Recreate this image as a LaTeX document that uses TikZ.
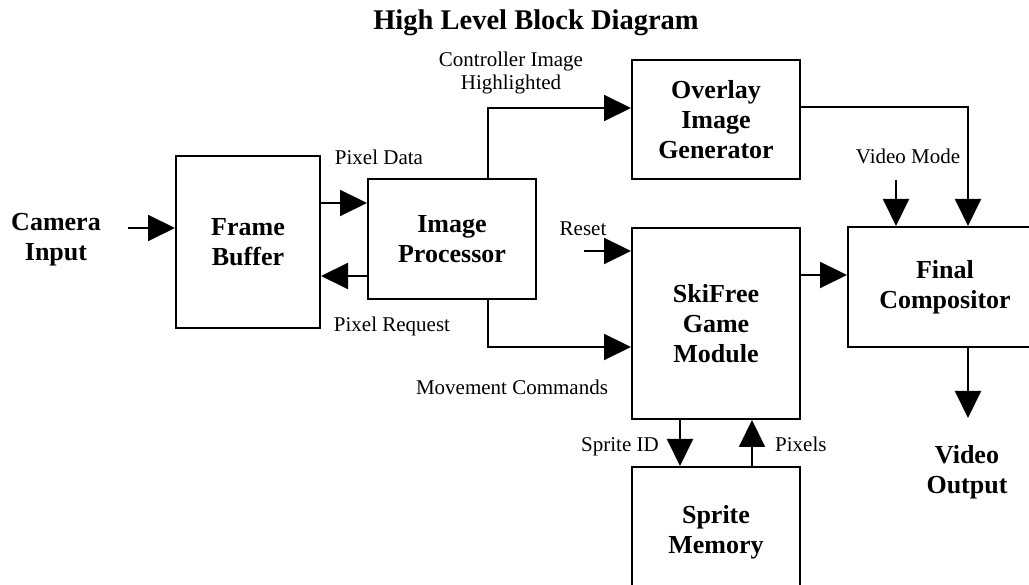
\documentclass[tikz,border=0pt]{standalone}
\usepackage{fontspec}
\setmainfont{Liberation Serif}
\usetikzlibrary{arrows.meta}
\newcommand{\labfont}{\fontsize{21}{23.5}\selectfont}
\newcommand{\blkfont}{\bfseries\fontsize{26}{30}\selectfont}
\tikzset{
  blk/.style={draw, line width=2pt, rectangle, inner sep=0pt, align=center, font=\blkfont},
  arr/.style={line width=2pt, -{Triangle[length=27pt,width=26pt]}},
  lab/.style={font=\labfont, inner sep=0pt, anchor=base},
  btxt/.style={font=\blkfont, inner sep=0pt, align=center}
}
\begin{document}
\begin{tikzpicture}[x=1pt,y=-1pt]
\useasboundingbox (0,0) rectangle (1029,585);
\clip (0,0) rectangle (1029,585);
% title
\node[btxt, font=\bfseries\fontsize{28.5}{30}\selectfont, anchor=base] (title) at (536,30) {High Level Block Diagram};
% blocks
\node[blk, minimum width=144pt, minimum height=172pt] (FB) at (248,242) {Frame\\Buffer};
\node[blk, minimum width=168pt, minimum height=120pt] (IP) at (452,239) {Image\\Processor};
\node[blk, minimum width=168pt, minimum height=119pt] (OV) at (716,119.5) {Overlay\\Image\\Generator};
\node[blk, minimum width=168pt, minimum height=191pt] (SK) at (716,323.5) {SkiFree\\Game\\Module};
\node[blk, minimum width=168pt, minimum height=130pt] (SM) at (716,532) {Sprite\\Memory};
\node[blk, minimum width=194pt, minimum height=120pt] (FC) at (945,287) {Final\\Compositor};
% external texts
\node[btxt] (cam) at (56,240) {Camera\\Input};
\node[btxt] (vout) at (967,472) {Video\\Output};
% coordinates
\coordinate (camin) at (128,228);
\coordinate (pdy) at (0,203);
\coordinate (pry) at (0,276);
\coordinate (ctrlx) at (488,0);
\coordinate (ctrly) at (0,108);
\coordinate (movy) at (0,347);
\coordinate (rst) at (584,251);
\coordinate (sky) at (0,275);
\coordinate (ovy) at (0,107);
\coordinate (fcx) at (968,0);
\coordinate (vm) at (896,180);
\coordinate (vo) at (968,418);
\coordinate (sidx) at (680,0);
\coordinate (pixx) at (752,0);
% connectors
\draw[arr] (camin) -- (camin -| FB.west);
\draw[arr] (FB.east |- pdy) -- (IP.west |- pdy);
\draw[arr] (IP.west |- pry) -- (FB.east |- pry);
\draw[arr] (ctrlx |- IP.north) |- (OV.west |- ctrly);
\draw[arr] (ctrlx |- IP.south) |- (SK.west |- movy);
\draw[arr] (rst) -- (rst -| SK.west);
\draw[arr] (SK.east |- sky) -- (FC.west |- sky);
\draw[arr] (OV.east |- ovy) -| (fcx |- FC.north);
\draw[arr] (vm) -- (vm |- FC.north);
\draw[arr] (fcx |- FC.south) -- (vo);
\draw[arr] (sidx |- SK.south) -- (sidx |- SM.north);
\draw[arr] (pixx |- SM.north) -- (pixx |- SK.south);
% labels
\node[lab] (lpd) at (379,165) {Pixel Data};
\node[lab] (lpr) at (392,332) {Pixel Request};
\node[lab, align=center] (lctrl) at (511,90) {Controller Image\\Highlighted};
\node[lab] (lrst) at (583,236) {Reset};
\node[lab] (lmov) at (512,395) {Movement Commands};
\node[lab, anchor=base east] (lsid) at (659,451) {Sprite ID};
\node[lab, anchor=base west] (lpix) at (775,451) {Pixels};
\node[lab] (lvm) at (908,164) {Video Mode};
\end{tikzpicture}
\end{document}
